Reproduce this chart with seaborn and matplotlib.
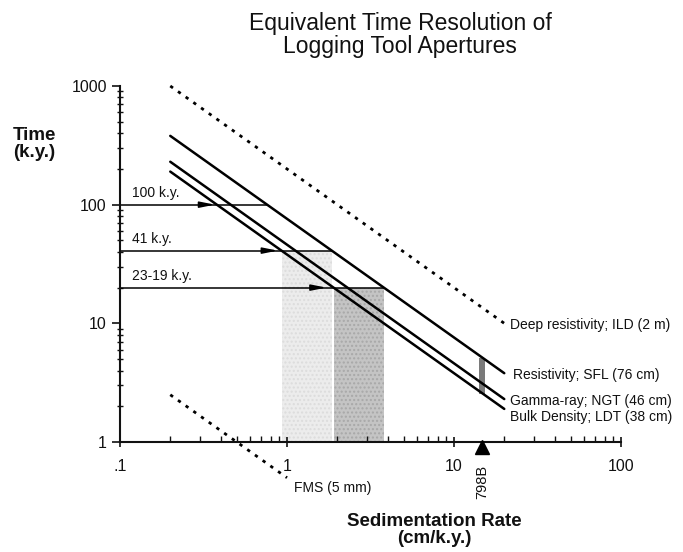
import matplotlib
matplotlib.use("Agg")
import matplotlib.pyplot as plt
import seaborn as sns
import pandas as pd

# ---- data ----
tools = ["ILD", "SFL", "NGT", "LDT"]
tool_labels = ["Deep resistivity; ILD (2 m)", "Resistivity; SFL (76 cm)",
               "Gamma-ray; NGT (46 cm)", "Bulk Density; LDT (38 cm)"]
rate_ends = [0.2, 20]
time_ILD = [1000, 10]
time_SFL = [380, 3.8]
time_NGT = [230, 2.3]
time_LDT = [190, 1.9]
fms_rate = [0.2, 1.0]
fms_time = [2.5, 0.5]

cycle_labels = ["100 k.y.", "41 k.y.", "23-19 k.y."]
cycle_time = [100, 41, 20]
cycle_arrow_tip = [0.37, 0.88, 1.72]
cycle_line_end = [0.76, 1.85, 3.8]

light_band = (0.927, 1.85, 41)   # x0, x1, top
dark_band = (1.9, 3.8, 20)
site_rate = 14.8
site_range = (2.53, 5.07)
site_name = "798B"

sns.set_style("ticks")
plt.rcParams["font.family"] = ["Liberation Sans", "DejaVu Sans"]
for k in ["text.color", "xtick.color", "ytick.color", "axes.edgecolor",
          "axes.labelcolor", "xtick.labelcolor", "ytick.labelcolor"]:
    plt.rcParams[k] = "#111111"

fig = plt.figure(figsize=(6.83, 5.52), dpi=100)
ax = fig.add_axes([120 / 683, 1 - 442 / 552, 501 / 683, 356 / 552])

df = pd.DataFrame({
    "rate": rate_ends * 4,
    "time": time_ILD + time_SFL + time_NGT + time_LDT,
    "tool": [t for t in tools for _ in range(2)],
})
solid = df[df.tool != "ILD"]
sns.lineplot(data=solid, x="rate", y="time", units="tool", estimator=None,
             color="black", lw=1.8, ax=ax, legend=False)
sns.lineplot(data=df[df.tool == "ILD"], x="rate", y="time", estimator=None,
             color="black", lw=2, ls=(0, (1.2, 2.2)), ax=ax, legend=False)
fms = pd.DataFrame({"rate": fms_rate, "time": fms_time})
sns.lineplot(data=fms, x="rate", y="time", estimator=None, color="black",
             lw=2, ls=(0, (1.2, 2.2)), ax=ax, legend=False)
for l in ax.lines:
    l.set_clip_on(False)

ax.set_xscale("log")
ax.set_yscale("log")
ax.set_xlim(0.1, 100)
ax.set_ylim(1, 1000)

# shaded bands
ax.fill_between([light_band[0], light_band[1]], 1, light_band[2],
                facecolor="#ececec", edgecolor="#dcdcdc", hatch="....", lw=0, zorder=0)
ax.fill_between([dark_band[0], dark_band[1]], 1, dark_band[2],
                facecolor="#c4c4c4", edgecolor="#a8a8a8", hatch="....", lw=0, zorder=0)
ax.fill_between([site_rate * 0.96, site_rate * 1.04], site_range[0], site_range[1],
                color="#7a7a7a", lw=0, zorder=1)

# cycle arrows
for lab, t, tip, end in zip(cycle_labels, cycle_time, cycle_arrow_tip, cycle_line_end):
    ax.plot([0.1, end], [t, t], color="black", lw=1.1, clip_on=False)
    ax.annotate("", xy=(tip, t), xytext=(tip * 0.8, t),
                arrowprops=dict(arrowstyle="-|>,head_length=0.9,head_width=0.18",
                                color="black", lw=1.1, shrinkA=0, shrinkB=0))
    ax.text(0.118, t * 1.1, lab, fontsize=10, ha="left", va="bottom")

# tool labels
label_pos = [(21.6, 9.7), (22.5, 3.67), (21.6, 2.21), (21.6, 1.62)]
for lab, (x, y) in zip(tool_labels, label_pos):
    ax.text(x, y, lab, fontsize=10, ha="left", va="center")
ax.text(1.1, 0.41, "FMS (5 mm)", fontsize=10, ha="left", va="center")

# site marker (triangle just below the axis, apex on it)
ax.plot([site_rate], [0.905], marker="^", color="black", markersize=10,
        clip_on=False, zorder=5)
ax.text(site_rate, 0.645, site_name, rotation=90, fontsize=10.5, ha="center", va="top")

# ticks
ax.set_xticks([0.1, 1, 10, 100])
ax.set_xticklabels([".1", "1", "10", "100"], fontsize=11.5)
ax.set_yticks([1, 10, 100, 1000])
ax.set_yticklabels(["1", "10", "100", "1000"], fontsize=11.5)
ax.tick_params(axis="x", which="major", direction="inout", length=7, width=1.2, pad=9)
ax.tick_params(axis="x", which="minor", direction="in", length=4, width=1)
ax.tick_params(axis="y", which="major", direction="out", length=6, width=1.2)
ax.tick_params(axis="y", which="minor", direction="inout", length=4, width=1)
for s in ["top", "right"]:
    ax.spines[s].set_visible(False)
for s in ["left", "bottom"]:
    ax.spines[s].set_linewidth(1.5)
ax.set_xlabel("")
ax.set_ylabel("")

fig.text(34 / 683, 1 - 144 / 552, "Time\n(k.y.)", fontsize=13.5, fontweight="bold",
         ha="center", va="center", linespacing=1.0)
fig.text(434 / 683, 1 - 530 / 552, "Sedimentation Rate\n(cm/k.y.)", fontsize=13.5,
         fontweight="bold", ha="center", va="center", linespacing=1.0)
fig.text(400 / 683, 1 - 35 / 552, "Equivalent Time Resolution of\nLogging Tool Apertures",
         fontsize=16.5, ha="center", va="center", linespacing=1.0)

fig.savefig("out.png", dpi=100, facecolor="white")
